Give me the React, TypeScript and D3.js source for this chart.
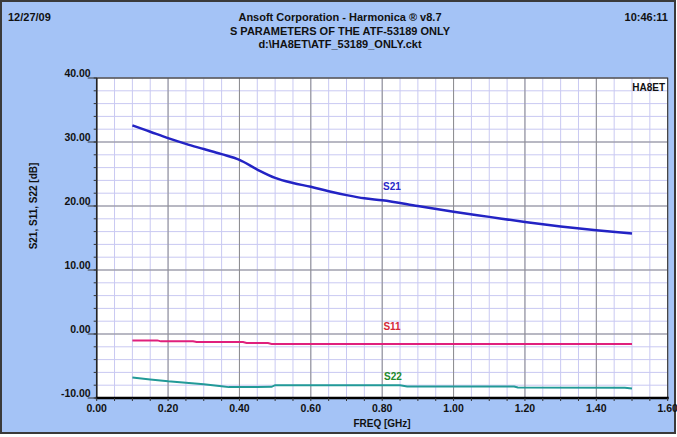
import React from "react";
import * as d3 from "d3";

// values
const freqS21 = [0.1, 0.15, 0.2, 0.25, 0.3, 0.35, 0.4, 0.45, 0.5, 0.55, 0.6, 0.65, 0.7, 0.75, 0.8, 0.9, 1.0, 1.1, 1.2, 1.3, 1.4, 1.5];
const s21 = [32.6, 31.6, 30.6, 29.7, 28.9, 28.1, 27.2, 25.7, 24.4, 23.6, 23.0, 22.3, 21.7, 21.2, 20.9, 20.0, 19.1, 18.3, 17.5, 16.8, 16.2, 15.7];

const freqS11 = [0.1, 0.17, 0.18, 0.27, 0.28, 0.41, 0.42, 0.48, 0.49, 0.8, 1.2, 1.5];
const s11 = [-1.0, -1.0, -1.15, -1.15, -1.25, -1.25, -1.4, -1.4, -1.55, -1.55, -1.55, -1.55];

const freqS22 = [0.1, 0.15, 0.2, 0.25, 0.3, 0.35, 0.37, 0.45, 0.49, 0.5, 0.85, 0.87, 1.17, 1.18, 1.48, 1.5];
const s22 = [-6.8, -7.1, -7.4, -7.6, -7.85, -8.15, -8.3, -8.3, -8.25, -8.0, -8.0, -8.2, -8.2, -8.35, -8.4, -8.5];

const xTicks = [0, 0.2, 0.4, 0.6, 0.8, 1.0, 1.2, 1.4, 1.6];
const yTicks = [-10, 0, 10, 20, 30, 40];

const W = 677;
const H = 437;
const left = 96.7, right = 667.7, top = 78, bottom = 398;

const font = "'Liberation Sans Narrow', 'Liberation Sans', Arial, sans-serif";

export default function App() {
  const x = d3.scaleLinear().domain([0, 1.6]).range([left, right]);
  const y = d3.scaleLinear().domain([-10, 40]).range([bottom, top]);

  const minorX = x.ticks(32);
  const minorY = y.ticks(25);

  const line = d3.line<[number, number]>().x(d => x(d[0])).y(d => y(d[1]));
  const s21Path = line.curve(d3.curveMonotoneX)(freqS21.map((f, i) => [f, s21[i]]));
  const lin = d3.line<[number, number]>().x(d => x(d[0])).y(d => y(d[1]));
  const s11Path = lin(freqS11.map((f, i) => [f, s11[i]]));
  const s22Path = lin(freqS22.map((f, i) => [f, s22[i]]));

  return (
    <div style={{ position: "absolute", left: 0, top: 0 }}>
      <svg width={W} height={H} style={{ display: "block", fontFamily: font, fontWeight: "bold" }}>
        <rect x={0} y={0} width={W} height={H} fill="#ffffff" />
        <rect x={1} y={1} width={674} height={432} fill="#a4c3f6" stroke="#3a3a3a" strokeWidth={2} />

        <text x={8} y={21} fontSize={11} fill="#111">12/27/09</text>
        <text x={668} y={21} fontSize={11} fill="#111" textAnchor="end">10:46:11</text>
        <text x={340} y={21} fontSize={11} fill="#111" textAnchor="middle">Ansoft Corporation - Harmonica ® v8.7</text>
        <text x={340} y={35} fontSize={11} fill="#111" textAnchor="middle">S PARAMETERS OF THE ATF-53189 ONLY</text>
        <text x={340} y={48} fontSize={11} fill="#111" textAnchor="middle">d:\HA8ET\ATF_53189_ONLY.ckt</text>

        <rect x={left} y={top} width={right - left} height={bottom - top} fill="#ffffff" />

        {minorX.map((v, i) => (
          <line key={"mx" + i} x1={x(v)} x2={x(v)} y1={top} y2={bottom} stroke="#c9c9f2" strokeWidth={1} />
        ))}
        {minorY.map((v, i) => (
          <line key={"my" + i} x1={left} x2={right} y1={y(v)} y2={y(v)} stroke="#c9c9f2" strokeWidth={1} />
        ))}
        {xTicks.map((v, i) => (
          <line key={"gx" + i} x1={x(v)} x2={x(v)} y1={top} y2={bottom} stroke="#8c8c8c" strokeWidth={1} />
        ))}
        {yTicks.map((v, i) => (
          <line key={"gy" + i} x1={left} x2={right} y1={y(v)} y2={y(v)} stroke="#8c8c8c" strokeWidth={1} />
        ))}

        <rect x={left} y={top} width={right - left} height={bottom - top} fill="none" stroke="#333" strokeWidth={1} />
        <line x1={left} x2={left} y1={top} y2={bottom} stroke="#222" strokeWidth={1.5} />
        <line x1={left - 1} x2={right + 1} y1={bottom} y2={bottom} stroke="#000" strokeWidth={2.5} />

        {minorY.map((v, i) => (
          <line key={"ty" + i} x1={left - 3} x2={left} y1={y(v)} y2={y(v)} stroke="#333" strokeWidth={1} />
        ))}
        {yTicks.map((v, i) => (
          <g key={"ly" + i}>
            <line x1={left - 9} x2={left} y1={y(v)} y2={y(v)} stroke="#333" strokeWidth={1} />
            <text x={left - 6} y={y(v) - 1} fontSize={10.5} fill="#111" textAnchor="end">{v.toFixed(2)}</text>
          </g>
        ))}
        {minorX.map((v, i) => (
          <line key={"tx" + i} x1={x(v)} x2={x(v)} y1={bottom} y2={bottom + 3} stroke="#333" strokeWidth={1} />
        ))}
        {xTicks.map((v, i) => (
          <text key={"lx" + i} x={x(v)} y={412} fontSize={10.5} fill="#111" textAnchor="middle">{v.toFixed(2)}</text>
        ))}

        <text x={382} y={427} fontSize={10} fill="#111" textAnchor="middle">FREQ [GHz]</text>
        <text transform="translate(37,206) rotate(-90)" fontSize={10} fill="#111" textAnchor="middle">S21, S11, S22 [dB]</text>
        <text x={665} y={91} fontSize={10} fill="#111" textAnchor="end">HA8ET</text>

        <path d={s21Path ?? ""} fill="none" stroke="#2323c4" strokeWidth={2.5} />
        <path d={s11Path ?? ""} fill="none" stroke="#e0207c" strokeWidth={2} />
        <path d={s22Path ?? ""} fill="none" stroke="#229a98" strokeWidth={2} />

        <text x={392} y={190} fontSize={10} fill="#2828c8" textAnchor="middle">S21</text>
        <text x={392} y={330} fontSize={10} fill="#d42838" textAnchor="middle">S11</text>
        <text x={393} y={380} fontSize={10} fill="#218a2a" textAnchor="middle">S22</text>
      </svg>
    </div>
  );
}
